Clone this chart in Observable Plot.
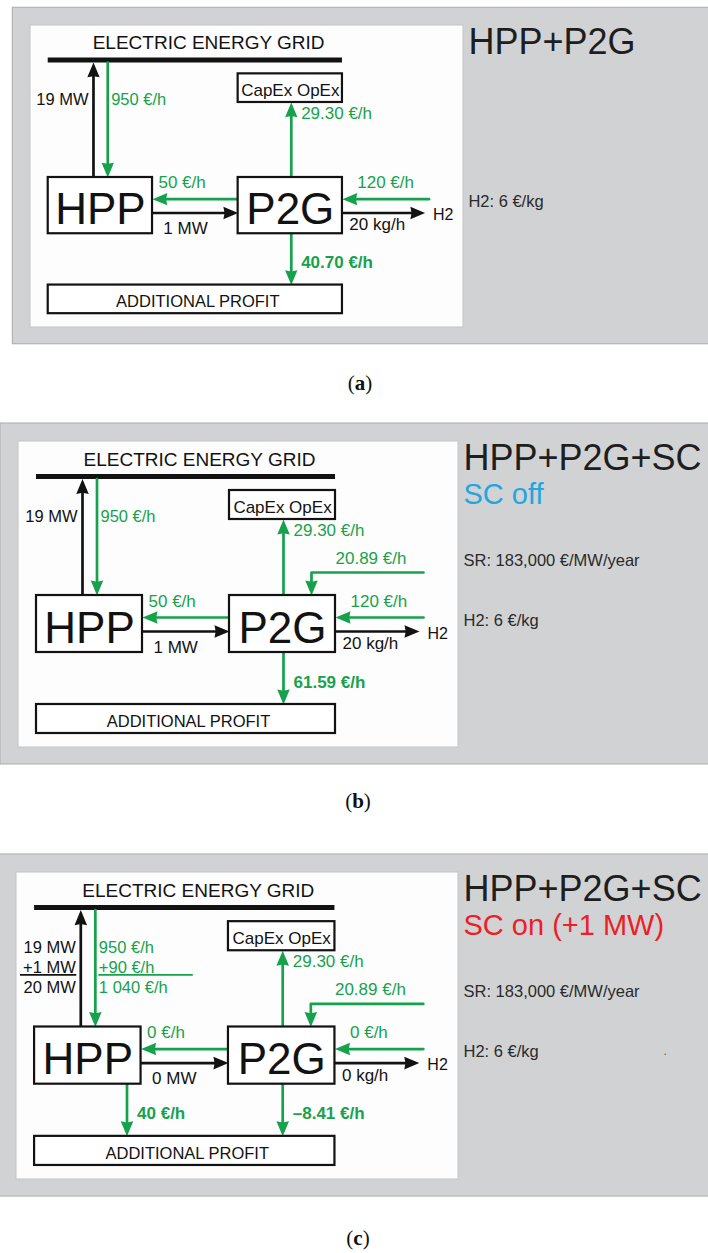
<!DOCTYPE html>
<html>
<head>
<meta charset="utf-8">
<script src="https://cdn.jsdelivr.net/npm/d3@7"></script>
<script src="https://cdn.jsdelivr.net/npm/@observablehq/plot@0.6"></script>
<style>
  html, body { margin: 0; padding: 0; background: #fff; }
  #root { position: relative; width: 708px; height: 1253px; overflow: hidden; }
  .panel { position: absolute; left: 0; }
  .caption { position: absolute; left: 0; width: 716px; text-align: center;
             font-family: "Liberation Serif", "DejaVu Serif", serif; font-size: 21px; line-height: 24px; color: #111; }
</style>
</head>
<body>
<div id="root"></div>
<script>
// ---------------- DATA (text values per scenario) ----------------
const panelIds = ["a", "b", "c"];
const scenarioTitles = ["HPP+P2G", "HPP+P2G+SC", "HPP+P2G+SC"];
const scStatus = ["", "SC off", "SC on (+1 MW)"];
const gridName = "ELECTRIC ENERGY GRID";
const nodeNames = ["HPP", "P2G", "CapEx OpEx", "ADDITIONAL PROFIT"];
const h2Name = ["H2", "H2", "H2"];
const hppToGridPower = [["19 MW"], ["19 MW"], ["19 MW", "+1 MW", "20 MW"]];
const gridToHppPayment = [["950 €/h"], ["950 €/h"], ["950 €/h", "+90 €/h", "1 040 €/h"]];
const p2gToCapexOpex = ["29.30 €/h", "29.30 €/h", "29.30 €/h"];
const srToP2gPayment = ["", "20.89 €/h", "20.89 €/h"];
const p2gToHppPayment = ["50 €/h", "50 €/h", "0 €/h"];
const hppToP2gPower = ["1 MW", "1 MW", "0 MW"];
const h2ToP2gPayment = ["120 €/h", "120 €/h", "0 €/h"];
const p2gH2Output = ["20 kg/h", "20 kg/h", "0 kg/h"];
const p2gProfit = ["40.70 €/h", "61.59 €/h", "–8.41 €/h"];
const hppProfit = ["", "", "40 €/h"];
const srPrice = ["", "SR: 183,000 €/MW/year", "SR: 183,000 €/MW/year"];
const h2Price = ["H2: 6 €/kg", "H2: 6 €/kg", "H2: 6 €/kg"];
const strayMark = ["", "", "."];

// ---------------- STYLE ----------------
const GREEN = "#16a24c";
const INK = "#121212";
const statusColors = ["#000", "#22a6e0", "#ec1f26"];

// ---------------- LAYOUT (diagram units) ----------------
const placement = [
  {top: 0,   height: 352, wl: 30, wr: 463, wt: 25,  wb: 327},
  {top: 412, height: 360, wl: 18, wr: 458, wt: 441, wb: 747},
  {top: 840, height: 365, wl: 16, wr: 458, wt: 872, wb: 1179}
];
const captionCenters = [{x: 360, y: 383}, {x: 358, y: 801}, {x: 358, y: 1238}];
const unitDomain = {x: [0, 440], y: [0, 306]};
const frameBox = {x1: -18, x2: 692, y1: -18, y2: 323};
const sheetBox = {x1: 0, x2: 440, y1: 0, y2: 306};
const gridBar = {x1: 18, x2: 317, y: 35};
const gridTitlePos = {x: 181, y: 24, size: 19};
const nodeBoxes = [
  {x1: 18,  x2: 124, y1: 154, y2: 211, tx: 71,  ty: 201,   size: 44},
  {x1: 211, x2: 317, y1: 154, y2: 211, tx: 264, ty: 201,   size: 44},
  {x1: 211, x2: 317, y1: 49,  y2: 78,  tx: 264, ty: 71,    size: 17},
  {x1: 18,  x2: 317, y1: 263, y2: 292, tx: 170, ty: 285.5, size: 16.5}
];
const arrowLayout = [
  {id: "hppToGrid",   pts: [[64, 154], [64, 37.5]],   color: INK,   show: null},
  {id: "gridToHpp",   pts: [[78.5, 37.5], [78.5, 154]], color: GREEN, show: null},
  {id: "p2gToCapex",  pts: [[265, 154], [265, 78]],   color: GREEN, show: null},
  {id: "p2gToHpp",    pts: [[211, 176], [124, 176]],  color: GREEN, show: null},
  {id: "hppToP2g",    pts: [[124, 190], [211, 190]],  color: INK,   show: null},
  {id: "h2ToP2g",     pts: [[405, 176], [317, 176]],  color: GREEN, show: null},
  {id: "p2gToH2",     pts: [[317, 190], [401, 190]],  color: INK,   show: null},
  {id: "p2gToProfit", pts: [[265, 211], [265, 263]],  color: GREEN, show: null},
  {id: "srToP2g",     pts: [[405, 131], [293, 131], [293, 154]], color: GREEN, show: srToP2gPayment},
  {id: "hppToProfit", pts: [[110, 211], [110, 263]],  color: GREEN, show: hppProfit}
];
const headSize = {length: 15, width: 12.5};
const labelLayout = [
  {values: hppToGridPower,   x: 59,  y: 80.5,  anchor: "end",   color: INK,   size: 16.5, step: 19.7},
  {values: gridToHppPayment, x: 82,  y: 80.5,  anchor: "start", color: GREEN, size: 16.5, step: 19.7},
  {values: p2gToCapexOpex,   x: 275, y: 94.5,  anchor: "start", color: GREEN, size: 17},
  {values: srToP2gPayment,   x: 317, y: 122.5, anchor: "start", color: GREEN, size: 17},
  {values: p2gToHppPayment,  x: 130, y: 165,   anchor: "start", color: GREEN, size: 17},
  {values: hppToP2gPower,    x: 135, y: 211,   anchor: "start", color: INK,   size: 17},
  {values: h2ToP2gPayment,   x: 332, y: 165,   anchor: "start", color: GREEN, size: 17},
  {values: p2gH2Output,      x: 324, y: 207.5, anchor: "start", color: INK,   size: 17},
  {values: h2Name,           x: 409, y: 197,   anchor: "start", color: INK,   size: 16},
  {values: p2gProfit,        x: 275, y: 246,   anchor: "start", color: GREEN, size: 17, weight: "bold"},
  {values: hppProfit,        x: 120, y: 246,   anchor: "start", color: GREEN, size: 17, weight: "bold"},
  {values: scenarioTitles,   x: 445, y: 28.5,  anchor: "start", color: "#1e1e1e", size: 36},
  {values: scStatus,         x: 445, y: 62,    anchor: "start", color: statusColors, size: 29},
  {values: srPrice,          x: 445, y: 124,   anchor: "start", color: "#2a2a2a", size: 16.5},
  {values: h2Price,          x: 445, y: 184,   anchor: "start", color: "#2a2a2a", size: 16.5},
  {values: strayMark,        x: 644, y: 182,   anchor: "start", color: "#555", size: 12}
];
const sumLines = [
  {of: hppToGridPower,   x1: 4,  x2: 60,  y: 102, color: INK},
  {of: gridToHppPayment, x1: 82, x2: 176, y: 102, color: GREEN}
];

// ---------------- BUILD ----------------
function arrowParts(a) {
  const n = a.pts.length;
  const [xa, ya] = a.pts[n - 2], [xb, yb] = a.pts[n - 1];
  const len = Math.hypot(xb - xa, yb - ya);
  const dx = (xb - xa) / len, dy = (yb - ya) / len;
  const L = headSize.length, W = headSize.width / 2;
  const bx = xb - L * dx, by = yb - L * dy;
  const shaft = a.pts.slice(0, n - 1).map(([x, y]) => ({id: a.id, x, y}));
  shaft.push({id: a.id, x: xb - 0.75 * L * dx, y: yb - 0.75 * L * dy});
  const head = [
    [xb, yb], [bx - W * dy, by + W * dx], [xb - 0.92 * L * dx, yb - 0.92 * L * dy], [bx + W * dy, by - W * dx]
  ].map(([x, y]) => ({id: a.id, x, y}));
  return {shaft, head};
}

function buildPanel(i) {
  const P = placement[i];
  const arrows = arrowLayout.filter(a => !a.show || a.show[i]);
  const marks = [];
  marks.push(Plot.rect([frameBox], {x1: "x1", x2: "x2", y1: "y1", y2: "y2", fill: "#d1d2d4", stroke: "#ababab", strokeWidth: 1}));
  marks.push(Plot.rect([sheetBox], {x1: "x1", x2: "x2", y1: "y1", y2: "y2", fill: "#fdfdfd", stroke: "#c4c4c4", strokeWidth: 1}));
  marks.push(Plot.ruleY([gridBar], {y: "y", x1: "x1", x2: "x2", stroke: INK, strokeWidth: 5}));
  marks.push(Plot.text([gridTitlePos], {x: "x", y: "y", text: () => gridName, fontSize: gridTitlePos.size, fill: INK, textAnchor: "middle", lineAnchor: "bottom"}));
  for (const color of [INK, GREEN]) {
    const sel = arrows.filter(a => a.color === color).map(arrowParts);
    marks.push(Plot.line(sel.flatMap(s => s.shaft), {x: "x", y: "y", z: "id", stroke: color, strokeWidth: 2.7}));
    marks.push(Plot.line(sel.flatMap(s => s.head), {x: "x", y: "y", z: "id", fill: color, stroke: "none"}));
  }
  marks.push(Plot.rect(nodeBoxes, {x1: "x1", x2: "x2", y1: "y1", y2: "y2", fill: "#fff", stroke: INK, strokeWidth: 2.2}));
  nodeBoxes.forEach((b, k) => {
    marks.push(Plot.text([b], {x: "tx", y: "ty", text: () => nodeNames[k], fontSize: b.size, fill: INK, textAnchor: "middle", lineAnchor: "bottom"}));
  });
  for (const s of sumLines) {
    if (s.of[i].length > 1) marks.push(Plot.ruleY([s], {y: "y", x1: "x1", x2: "x2", stroke: s.color, strokeWidth: 1.6}));
  }
  for (const l of labelLayout) {
    const v = l.values[i];
    const lines = Array.isArray(v) ? v : [v];
    const rows = lines.map((t, k) => ({t, x: l.x, y: l.y + k * (l.step || 0)})).filter(r => r.t);
    if (!rows.length) continue;
    marks.push(Plot.text(rows, {
      x: "x", y: "y", text: "t", textAnchor: l.anchor, lineAnchor: "bottom",
      fontSize: l.size, fontWeight: l.weight || "normal",
      fill: Array.isArray(l.color) ? l.color[i] : l.color
    }));
  }
  return Plot.plot({
    width: 708, height: P.height, margin: 0,
    x: {domain: unitDomain.x, range: [P.wl, P.wr], axis: null},
    y: {domain: unitDomain.y, range: [P.wt - P.top, P.wb - P.top], axis: null},
    style: {fontFamily: "'Liberation Sans', Arial, sans-serif", background: "#fff", overflow: "hidden"},
    marks
  });
}

const root = document.getElementById("root");
panelIds.forEach((id, i) => {
  const div = document.createElement("div");
  div.className = "panel";
  div.style.top = placement[i].top + "px";
  div.appendChild(buildPanel(i));
  root.appendChild(div);
  const cap = document.createElement("div");
  cap.className = "caption";
  cap.style.top = (captionCenters[i].y - 12) + "px";
  cap.style.left = (captionCenters[i].x - 358) + "px";
  cap.innerHTML = "(<b>" + id + "</b>)";
  root.appendChild(cap);
});
</script>
</body>
</html>
